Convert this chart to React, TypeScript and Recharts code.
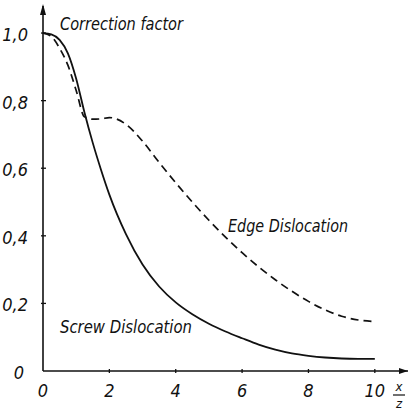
import React from "react";
import { ComposedChart, Line, XAxis, YAxis, Customized } from "recharts";

const xValues = [0, 0.25, 0.5, 0.75, 1, 1.25, 1.5, 1.75, 2, 2.5, 3, 3.5, 4, 4.5, 5, 5.5, 6, 6.5, 7, 7.5, 8, 8.5, 9, 9.5, 10];
const screwValues = [1.0, 0.996, 0.98, 0.94, 0.865, 0.765, 0.675, 0.595, 0.522, 0.405, 0.315, 0.25, 0.203, 0.168, 0.14, 0.117, 0.097, 0.078, 0.063, 0.052, 0.045, 0.04, 0.037, 0.036, 0.036];
const edgeValues = [1.0, 0.99, 0.955, 0.905, 0.83, 0.752, 0.745, 0.746, 0.75, 0.73, 0.68, 0.617, 0.557, 0.5, 0.446, 0.396, 0.35, 0.308, 0.27, 0.236, 0.206, 0.181, 0.162, 0.151, 0.146];
const xTicks = [0, 2, 4, 6, 8, 10];
const yTicks = [0, 0.2, 0.4, 0.6, 0.8, 1.0];
const yTickLabels = ["0", "0,2", "0,4", "0,6", "0,8", "1,0"];

const data = xValues.map((x, i) => ({ x, screw: screwValues[i], edge: edgeValues[i] }));

const W = 409;
const H = 411;
const M = { top: 6, right: 1, bottom: 0, left: 0 };
const YW = 43;
const XH = 40;
const FONT = "'Liberation Sans Narrow', 'DejaVu Sans Condensed', 'Liberation Sans', sans-serif";
const INK = "#111";

const XTick = (props: any) => {
  const { x, y, payload } = props;
  return (
    <g>
      {payload.value !== 0 && <line x1={x} y1={y} x2={x} y2={y - 4} stroke={INK} strokeWidth={1.3} />}
      <text x={x} y={y + 24} textAnchor="middle" fontFamily={FONT} fontStyle="italic" fontSize={18} fill={INK}>
        {payload.value}
      </text>
    </g>
  );
};

const YTick = (props: any) => {
  const { x, y, payload } = props;
  const idx = yTicks.indexOf(payload.value);
  const label = yTickLabels[idx] ?? String(payload.value);
  const isZero = payload.value === 0;
  return (
    <g>
      {!isZero && <line x1={x} y1={y} x2={x + 5} y2={y} stroke={INK} strokeWidth={1.3} />}
      <text x={isZero ? x - 17 : x - 13} y={y + 8} textAnchor="end" fontFamily={FONT} fontStyle="italic" fontSize={18} fill={INK}>
        {label}
      </text>
    </g>
  );
};

const Decorations = () => {
  const ax = YW + M.left;
  const ay = H - M.bottom - XH;
  const xEnd = W - M.right;
  const yTop = M.top;
  return (
    <g>
      <polygon points={`${ax},${yTop - 2} ${ax - 3},${yTop + 9} ${ax + 3},${yTop + 9}`} fill={INK} />
      <polygon points={`${xEnd},${ay} ${xEnd - 9},${ay - 3} ${xEnd - 9},${ay + 3}`} fill={INK} />
      <text x={60} y={30} fontFamily={FONT} fontStyle="italic" fontSize={17} fill={INK} textLength={123} lengthAdjust="spacingAndGlyphs">
        Correction factor
      </text>
      <text x={228} y={232} fontFamily={FONT} fontStyle="italic" fontSize={17} fill={INK} textLength={120} lengthAdjust="spacingAndGlyphs">
        Edge Dislocation
      </text>
      <text x={60} y={333} fontFamily={FONT} fontStyle="italic" fontSize={17} fill={INK} textLength={132} lengthAdjust="spacingAndGlyphs">
        Screw Dislocation
      </text>
      <text x={399} y={391} textAnchor="middle" fontFamily={FONT} fontStyle="italic" fontSize={13} fill={INK}>x</text>
      <line x1={393} y1={395} x2={405} y2={395} stroke={INK} strokeWidth={1.2} />
      <text x={399} y={408} textAnchor="middle" fontFamily={FONT} fontStyle="italic" fontSize={13} fill={INK}>z</text>
    </g>
  );
};

export default function App() {
  return (
    <div style={{ position: "absolute", left: 0, top: 0, width: W, height: H, background: "#fff" }}>
      <ComposedChart width={W} height={H} data={data} margin={M}>
        <XAxis
          dataKey="x"
          type="number"
          domain={[0, 11]}
          ticks={xTicks}
          tick={<XTick />}
          tickLine={false}
          tickSize={0}
          height={XH}
          axisLine={{ stroke: INK, strokeWidth: 1.5 }}
          interval={0}
        />
        <YAxis
          type="number"
          domain={[0, 1.08]}
          ticks={yTicks}
          tick={<YTick />}
          tickLine={false}
          tickSize={0}
          width={YW}
          axisLine={{ stroke: INK, strokeWidth: 1.6 }}
          interval={0}
        />
        <Line type="monotone" dataKey="screw" stroke={INK} strokeWidth={1.8} dot={false} isAnimationActive={false} />
        <Line type="monotone" dataKey="edge" stroke={INK} strokeWidth={1.7} strokeDasharray="8 5" dot={false} isAnimationActive={false} />
        <Customized component={<Decorations />} />
      </ComposedChart>
    </div>
  );
}
